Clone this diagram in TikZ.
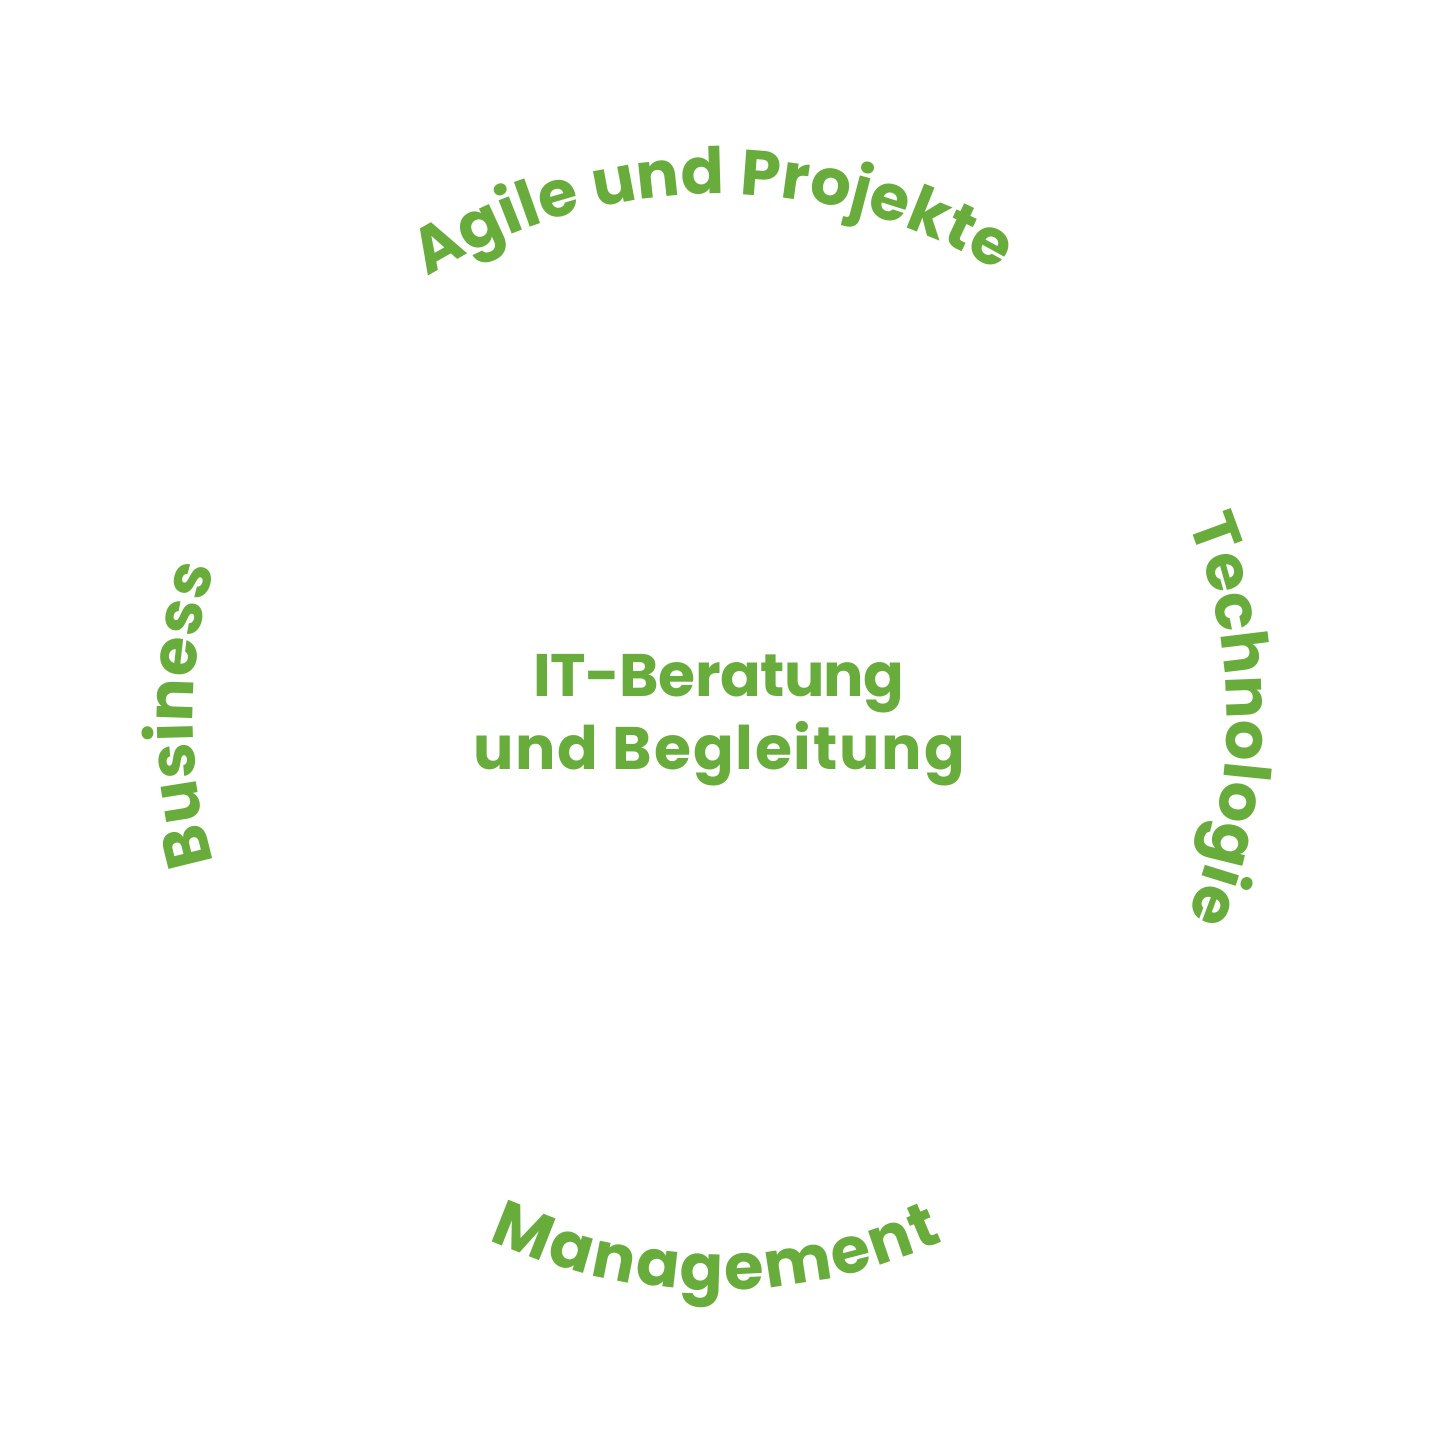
\documentclass[tikz,border=0pt]{standalone}
\usepackage{fontspec}
\setmainfont{Poppins}
\usetikzlibrary{decorations.text}
\definecolor{grn}{RGB}{104,172,60}
\newcommand{\arcfont}{\fontsize{32}{38}\selectfont\bfseries}
\tikzset{
  arctext/.style={decorate, decoration={text along path, text color=grn,
      text align={fit to path}, text={|\arcfont|#1}}},
  centertext/.style={text=grn, font=\fontsize{30}{36}\selectfont\bfseries, inner sep=0pt, anchor=base}
}
\begin{document}
\begin{tikzpicture}[x=0.5pt,y=0.5pt]
\fill[white] (0,0) rectangle (1436,1435);
\path[use as bounding box] (0,0) rectangle (1436,1435);
% top arc
\path[arctext={Agile und Projekte}] (718,693) ++(122:548) arc[start angle=122, end angle=59.2, radius=548];
% right arc
\path[arctext={Technologie}] (710,717) ++(22.2:517) arc[start angle=22.2, end angle=-22.4, radius=517];
% left arc
\path[arctext={Business}] (710,717) ++(196.2:517) arc[start angle=196.2, end angle=163.2, radius=517];
% bottom arc
\path[arctext={Management}] (718,693) ++(245.3:548) arc[start angle=245.3, end angle=294.3, radius=548];
% center
\node[centertext] (l1) at (719,738) {\addfontfeatures{LetterSpace=-1}IT-Beratung};
\node[centertext] (l2) at (719,665) {\addfontfeatures{LetterSpace=3}und Begleitung};
\end{tikzpicture}
\end{document}
